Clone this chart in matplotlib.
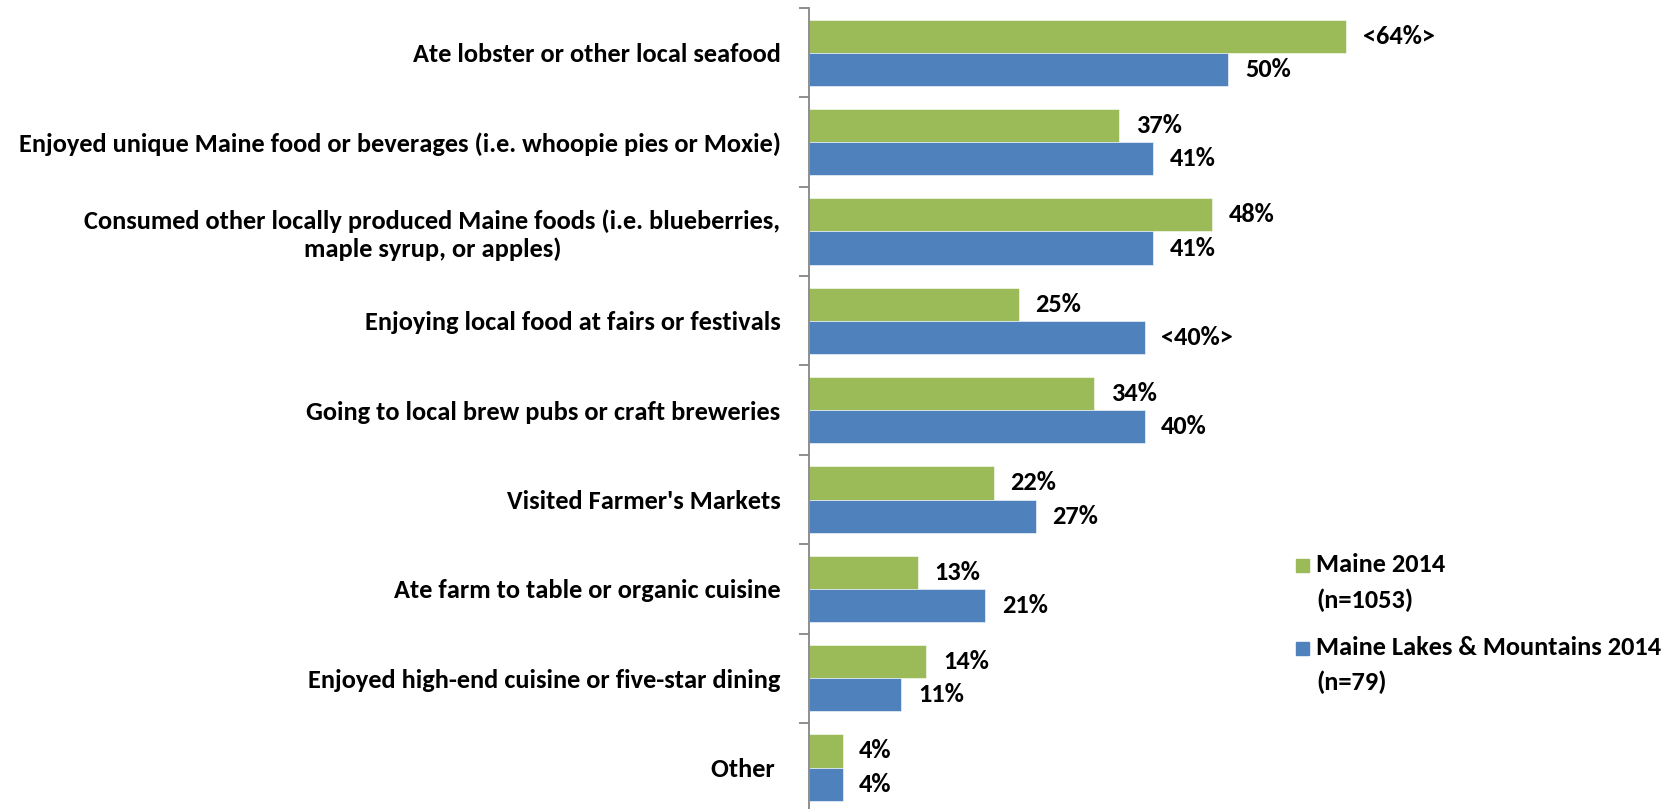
import numpy as np
import matplotlib
matplotlib.use("Agg")
import matplotlib.pyplot as plt
from matplotlib.patches import Rectangle

plt.rcParams["font.family"] = ["Carlito", "Liberation Sans Narrow", "Lato", "DejaVu Sans"]
plt.rcParams["font.weight"] = "bold"

categories = [
    "Ate lobster or other local seafood",
    "Enjoyed unique Maine food or beverages (i.e. whoopie pies or Moxie)",
    "Consumed other locally produced Maine foods (i.e. blueberries,\nmaple syrup, or apples)",
    "Enjoying local food at fairs or festivals",
    "Going to local brew pubs or craft breweries",
    "Visited Farmer's Markets",
    "Ate farm to table or organic cuisine",
    "Enjoyed high-end cuisine or five-star dining",
    "Other ",
]
maine = [64, 37, 48, 25, 34, 22, 13, 14, 4]
lakes = [50, 41, 41, 40, 40, 27, 21, 11, 4]
maine_labels = ["<64%>", "37%", "48%", "25%", "34%", "22%", "13%", "14%", "4%"]
lakes_labels = ["50%", "41%", "41%", "<40%>", "40%", "27%", "21%", "11%", "4%"]
series_names = [["Maine 2014", "(n=1053)"],
                ["Maine Lakes & Mountains 2014", "(n=79)"]]

GREEN = "#9BBB59"
BLUE = "#4F81BD"
AXIS = "#868686"
FS = 19

fig = plt.figure(figsize=(16.81, 8.09), dpi=100)
ax = fig.add_axes([0.4813, -0.004, 0.499, 0.994])

y = np.arange(len(categories))
h = 0.372
ax.barh(y - h / 2, maine, height=h, color=GREEN, edgecolor="white", linewidth=0.4)
ax.barh(y + h / 2, lakes, height=h, color=BLUE, edgecolor="white", linewidth=0.4)

for yi, v, s in zip(y, maine, maine_labels):
    ax.annotate(s, (v, yi - h / 2), xytext=(12, 0), textcoords="offset points",
                va="center", ha="left", fontsize=FS, fontweight="bold")
for yi, v, s in zip(y, lakes, lakes_labels):
    ax.annotate(s, (v, yi + h / 2), xytext=(12, 0), textcoords="offset points",
                va="center", ha="left", fontsize=FS, fontweight="bold")

ax.set_xlim(0, 100)
ax.set_ylim(len(categories) - 0.5, -0.5)
ax.set_xticks([])

# boundary ticks on the category axis, labels on minor ticks at bar centres
ax.set_yticks(np.arange(-0.5, len(categories), 1.0))
ax.set_yticklabels([])
ax.tick_params(axis="y", which="major", length=7, width=1.3, color=AXIS)
ax.set_yticks(y, minor=True)
ax.set_yticklabels(categories, minor=True, fontsize=FS, fontweight="bold",
                   multialignment="center")
ax.tick_params(axis="y", which="minor", length=0, pad=20.5)

for side in ["top", "right", "bottom"]:
    ax.spines[side].set_visible(False)
ax.spines["left"].set_color(AXIS)
ax.spines["left"].set_linewidth(1.3)

# legend drawn by hand: square marker plus two text lines per series
W, H = 1681, 809
legend_rows = [(565, 600), (647.5, 682)]
for (l1, l2), (y1, y2), color in zip(series_names, legend_rows, [GREEN, BLUE]):
    fig.patches.append(Rectangle((1296 / W, 1 - (y1 + 7) / H), 13 / W, 13 / H,
                                 transform=fig.transFigure, color=color))
    fig.text(1316 / W, 1 - y1 / H, l1, fontsize=FS, fontweight="bold", va="center")
    fig.text(1316 / W, 1 - y2 / H, l2, fontsize=FS, fontweight="bold", va="center")

fig.savefig("out.png", dpi=100)
